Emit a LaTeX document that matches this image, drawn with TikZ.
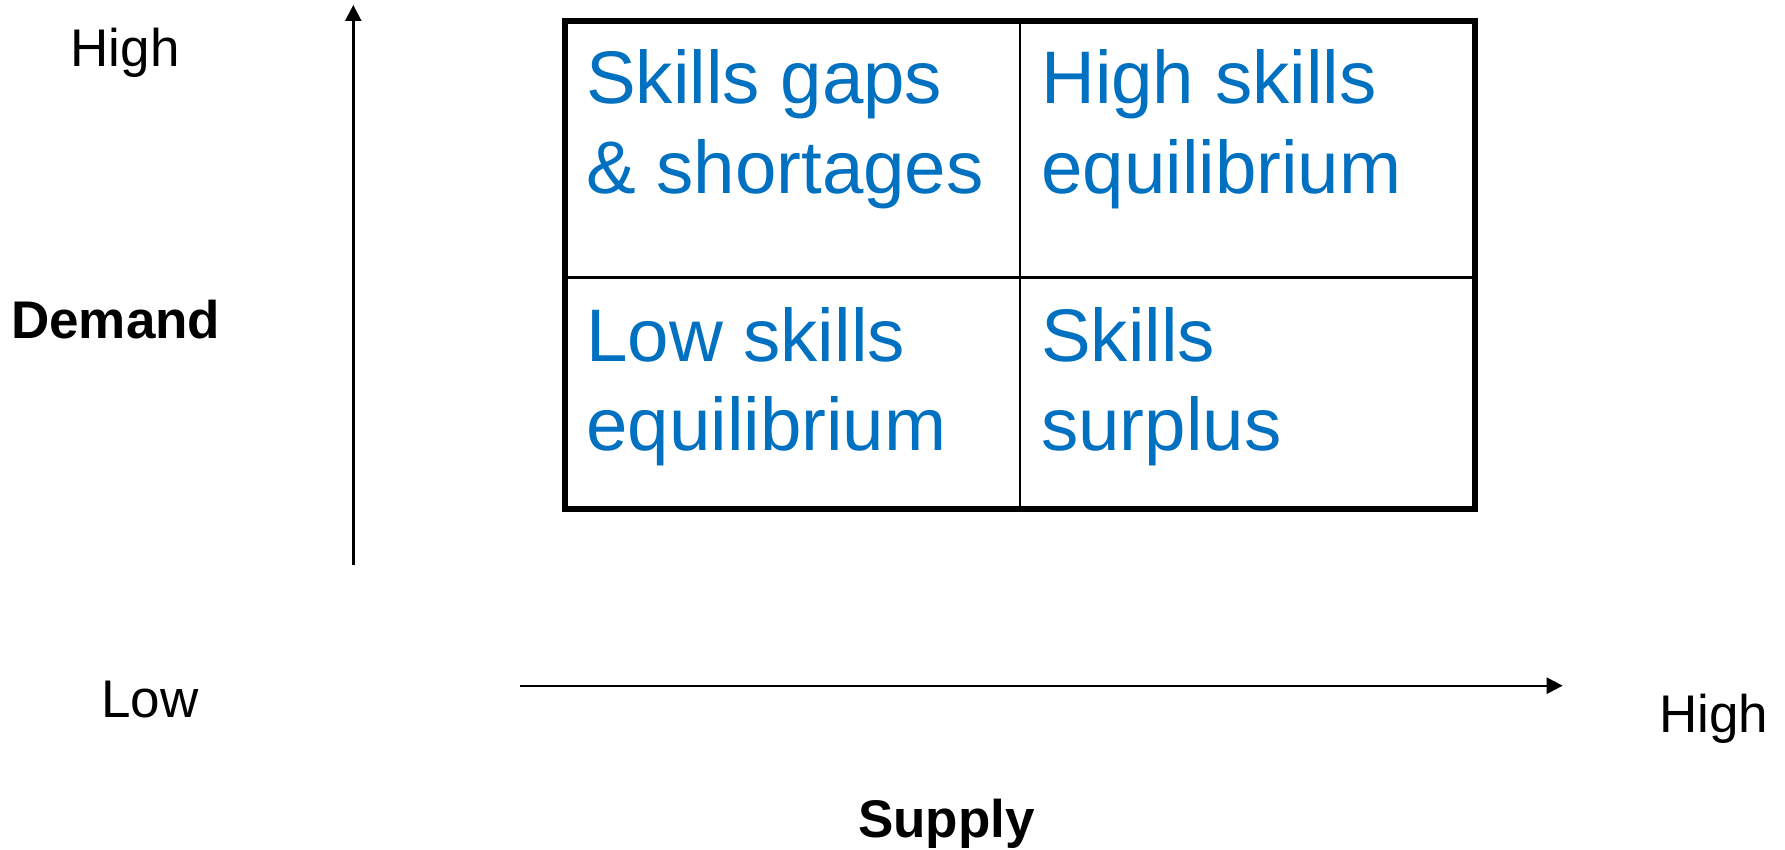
\documentclass[tikz,border=0pt]{standalone}
\usepackage{fontspec}
\setmainfont{Liberation Sans}
\usetikzlibrary{arrows.meta}
\definecolor{quadblue}{RGB}{0,112,192}
\begin{document}
\begin{tikzpicture}[x=1pt,y=-1pt,
  quadtext/.style={anchor=base west,inner sep=0pt,text=quadblue,font=\fontsize{74.5}{89}\selectfont},
  axistext/.style={anchor=base west,inner sep=0pt,font=\fontsize{53}{63}\selectfont},
  axistitle/.style={anchor=base west,inner sep=0pt,font=\fontsize{53}{63}\selectfont\bfseries},
  axisarrow/.style={line width=2.4pt,-{Triangle[length=16pt,width=16pt]}},
  outerbox/.style={line width=6pt},
  innerline/.style={line width=2.5pt}]
\useasboundingbox (0,0) rectangle (1785,850);
% grid box
\coordinate (tl) at (565,21);
\coordinate (br) at (1474.7,508.7);
\coordinate (vt) at (1020,21);
\coordinate (vb) at (1020,508.7);
\coordinate (hl) at (565,277.7);
\coordinate (hr) at (1474.7,277.7);
\draw[innerline] (vt) -- (vb);
\draw[innerline] (hl) -- (hr);
\draw[outerbox] (tl) rectangle (br);
% quadrant texts
\node[quadtext] (q1a) at (586,104) {Skills gaps};
\node[quadtext] (q1b) at (586,193.5) {\& shortages};
\node[quadtext] (q2a) at (1041,104) {High skills};
\node[quadtext] (q2b) at (1041,193.5) {equilibrium};
\node[quadtext] (q3a) at (586,361) {Low skills};
\node[quadtext] (q3b) at (586,450) {equilibrium};
\node[quadtext] (q4a) at (1041,361) {Skills};
\node[quadtext] (q4b) at (1041,450) {surplus};
% axes
\coordinate (ya) at (353.3,565);
\coordinate (yb) at (353.3,5);
\coordinate (xa) at (520,685.7);
\coordinate (xb) at (1562.7,685.7);
\draw[axisarrow] (ya) -- (yb);
\draw[axisarrow] (xa) -- (xb);
% axis labels
\node[axistext] (yhigh) at (70.5,66.8) {High};
\node[axistitle] (ytitle) at (11,338.5) {Demand};
\node[axistext] (xlow) at (101,717.3) {Low};
\node[axistext] (xhigh) at (1659,732.7) {High};
\node[axistitle] (xtitle) at (858,837) {Supply};
\end{tikzpicture}
\end{document}
